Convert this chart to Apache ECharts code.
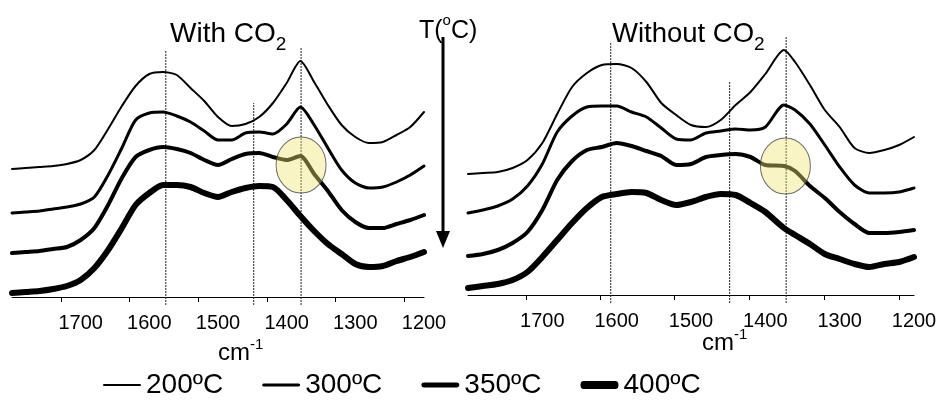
<!DOCTYPE html>
<html><head><meta charset="utf-8">
<script src="https://cdn.jsdelivr.net/npm/echarts@6/dist/echarts.min.js"></script>
<style>html,body{margin:0;padding:0;background:#fff}#c{width:941px;height:401px}</style>
</head><body><div id="c"></div>
<script>
// Wavenumbers (cm-1)
const wnLeft  = [1800,1780,1760,1740,1720,1700,1680,1660,1640,1620,1600,1580,1560,1540,1520,1500,1480,1460,1440,1420,1400,1380,1360,1340,1320,1300,1280,1260,1240,1220,1200];
const wnRight = [1800,1780,1760,1740,1720,1700,1680,1660,1640,1620,1600,1580,1560,1540,1520,1500,1480,1460,1440,1420,1400,1375,1360,1340,1320,1300,1280,1260,1240,1220,1200];
// Stacked (offset) absorbance, arbitrary units — With CO2
const withCO2_200 = [128,129,130,131,133,137,147,168,191,211,223,225,222,209,196,180,171,173,180,194,214,236,215,192,172,160,154,155,162,170,185];
const withCO2_300 = [84,85,86,88,90,93,100,122,149,177,184,185,181,175,166,157,157,164,165,163,173,190,172,149,127,114,109,110,115,122,131];
const withCO2_350 = [44,45,46,48,50,57,69,92,119,140,147,150,148,144,137,132,138,143,144,140,137,141,123,106,87,75,69,69,73,77,82];
const withCO2_400 = [4,5,6,8,11,17,29,47,69,92,104,112,112,110,104,100,105,109,111,110,97,81,66,53,43,33,30,31,36,40,45];
// Without CO2
const noCO2_200 = [121,122,123,127,135,152,181,208,222,230,231,227,213,192,180,170,168,175,190,203,221,245,233,210,185,168,147,142,145,150,158];
const noCO2_300 = [82,85,89,96,109,131,163,179,188,189,189,183,178,167,156,155,162,164,166,165,168,190,185,171,150,128,110,102,102,103,107];
const noCO2_350 = [39,41,45,52,63,85,115,134,145,148,152,149,144,139,130,131,138,140,141,138,130,129,124,109,97,83,71,62,62,63,65];
const noCO2_400 = [7,9,11,15,23,38,55,72,87,98,101,103,102,95,90,93,98,101,100,92,83,67,60,51,41,36,31,28,31,33,38];

const temps = ['200ºC','300ºC','350ºC','400ºC'];
const widths = [2, 3, 4, 6];
const legendWidths = [2, 3, 5, 8];
const tickLabels = [1700,1600,1500,1400,1300,1200];
const tickMarksLeft = [1729,1629,1529,1429,1329,1229];
const tickMarksRight = [1722,1622,1522,1421,1321,1220];
// Reference band positions [wavenumber, top of dotted line]
const guidesLeft = [[1576,247],[1448,194],[1379,250]];
const guidesRight = [[1608,252],[1448,213],[1372,258]];
// Highlight circles [wavenumber, level]
const circleLeft = [1379,132];
const circleRight = [1373,129];

const reg = "'Liberation Sans',Arial,sans-serif";

function zip(x, y){ return x.map((v,i)=>[v,y[i]]); }
// legend icon: a bar of thickness w inside a 38x14 box (tiny corner marks fix the box)
function barIcon(w){
  const y0 = 7 - w/2, r = Math.min(w/2, 3);
  return 'path://M0,0h0.01v0.01h-0.01z M38,13.99h0.01v0.01h-0.01z ' +
    'M' + r + ',' + y0 + 'h' + (38-2*r) + 'a' + r + ',' + (w/2) + ' 0 0 1 0,' + w + 'h' + (-(38-2*r)) + 'a' + r + ',' + (w/2) + ' 0 0 1 0,' + (-w) + 'z';
}

const series = [];
const panels = [
  {wn: wnLeft, data:[withCO2_200,withCO2_300,withCO2_350,withCO2_400], guides: guidesLeft, circle: circleLeft},
  {wn: wnRight, data:[noCO2_200,noCO2_300,noCO2_350,noCO2_400], guides: guidesRight, circle: circleRight}
];
panels.forEach((p, pi) => {
  p.guides.forEach(g => {
    series.push({type:'line', xAxisIndex:pi, yAxisIndex:pi, data:[[g[0],-8],[g[0],g[1]]],
      symbol:'none', silent:true, z:1, lineStyle:{color:'#222', width:1, type:[2,1]}});
  });
  p.data.forEach((d, i) => {
    series.push({type:'line', name: temps[i], xAxisIndex:pi, yAxisIndex:pi, data: zip(p.wn, d),
      symbol:'none', smooth:0.25, z:2, lineStyle:{color:'#000', width: widths[i], join:'round', cap:'round'}, itemStyle:{color:'#000'}});
  });
  series.push({type:'scatter', xAxisIndex:pi, yAxisIndex:pi, data:[p.circle], symbol:'circle', symbolSize:[50,56], z:5, silent:true,
    itemStyle:{color:'rgba(238,228,110,0.52)', borderColor:'#444', borderWidth:1}});
});

function xAxis(gi, ticks){
  return {type:'value', gridIndex:gi, min:1200, max:1800, inverse:true,
    axisLine:{onZero:true, lineStyle:{color:'#000', width:1}},
    axisTick:{show:true, inside:false, length:5, customValues: ticks, lineStyle:{color:'#000', width:1}},
    axisLabel:{customValues: tickLabels, margin:6, color:'#000', fontSize:20, fontFamily: reg, formatter: v => String(v)},
    splitLine:{show:false}};
}
function yAxis(gi){
  return {type:'value', gridIndex:gi, min:-10, max:260, show:false, splitLine:{show:false}};
}
const txt = (size, lh, fam, extra) => Object.assign({fontSize:size, lineHeight:lh, fontFamily:fam, fontWeight:'normal', color:'#000'}, extra||{});

const option = {
  animation:false,
  backgroundColor:'#fff',
  grid:[{left:12, right:517, top:37, bottom:94},{left:468, right:27, top:35, bottom:96}],
  xAxis:[xAxis(0, tickMarksLeft), xAxis(1, tickMarksRight)],
  yAxis:[yAxis(0), yAxis(1)],
  legend:{data: temps.map((t,i)=>({name:t, icon: barIcon(legendWidths[i]), itemStyle:{color:'#000', borderWidth:0}})),
    left:98, top:366, itemWidth:38, itemHeight:14, itemGap:39,
    textStyle:{color:'#000', fontSize:28, fontFamily: reg}},
  title:[
    {text:'{a|With CO}{b|2}', left:165, top:9, textStyle:{rich:{a:txt(28,40,reg), b:txt(19,20,reg,{verticalAlign:'bottom'})}}},
    {text:'{a|Without CO}{b|2}', left:607, top:9, textStyle:{rich:{a:txt(27.5,40,reg), b:txt(19,20,reg,{verticalAlign:'bottom'})}}},
    {text:'{a|T(}{s|o}{a|C)}', left:414, top:8, textStyle:{rich:{a:txt(25,36,reg), s:txt(15,16,reg,{verticalAlign:'top'})}}},
    {text:'{a|cm}{s|-1}', left:213, top:332, textStyle:{rich:{a:txt(24,32,reg), s:txt(15,15,reg,{verticalAlign:'top'})}}},
    {text:'{a|cm}{s|-1}', left:697, top:322, textStyle:{rich:{a:txt(24,32,reg), s:txt(15,15,reg,{verticalAlign:'top'})}}}
  ],
  graphic:[
    {type:'line', shape:{x1:443, y1:37, x2:443, y2:233}, style:{stroke:'#000', lineWidth:3}},
    {type:'polygon', shape:{points:[[436,231],[450,231],[443,248]]}, style:{fill:'#000'}}
  ],
  series: series
};
const chart = echarts.init(document.getElementById('c'), null, {renderer:'canvas'});
chart.setOption(option);
</script></body></html>
